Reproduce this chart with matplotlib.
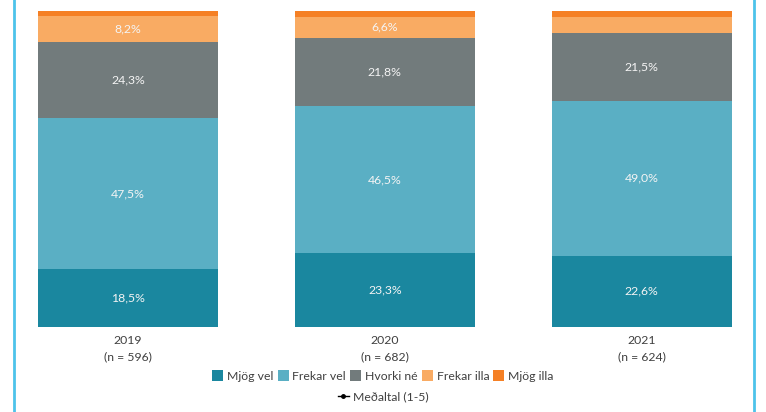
import matplotlib
matplotlib.use("Agg")
from matplotlib import pyplot as plt
from matplotlib.patches import Patch
from matplotlib.lines import Line2D
import numpy as np

plt.rcParams['font.family'] = ['Lato', 'DejaVu Sans']

years = ['2019', '2020', '2021']
n_counts = [596, 682, 624]
categories = ['Mjög vel', 'Frekar vel', 'Hvorki né', 'Frekar illa', 'Mjög illa']
mjog_vel = [18.5, 23.3, 22.6]
frekar_vel = [47.5, 46.5, 49.0]
hvorki = [24.3, 21.8, 21.5]
frekar_illa = [8.2, 6.6, 5.1]
mjog_illa = [1.5, 1.8, 1.8]
series = [mjog_vel, frekar_vel, hvorki, frekar_illa, mjog_illa]
colors = ['#1a879f', '#5aafc4', '#727b7c', '#f9ab63', '#f58025']

fig = plt.figure(figsize=(7.66, 4.12), dpi=100)
ax = fig.add_axes([12.35 / 766, 85 / 412, 745 / 766, 316 / 412])

x = np.arange(len(years))
bottom = np.zeros(len(years))
for vals, col in zip(series, colors):
    vals = np.array(vals)
    ax.bar(x, vals, width=0.7, bottom=bottom, color=col, edgecolor='none')
    for xi, b, v in zip(x, bottom, vals):
        if v >= 6:
            ax.text(xi, b + v / 2, f"{v:.1f}%".replace('.', ','), ha='center', va='center',
                    color='#f4f4f4', fontsize=8.8)
    bottom += vals

ax.set_xlim(-0.45, 2.45)
ax.set_ylim(0, 100)
ax.set_yticks([])
ax.set_xticks(x)
ax.set_xticklabels([f"{y}\n(n = {n})" for y, n in zip(years, n_counts)],
                   fontsize=8.8, color='#404040', linespacing=1.5)
ax.tick_params(axis='x', length=0, pad=6)
for s in ['top', 'bottom', 'left', 'right']:
    ax.spines[s].set_visible(False)

# cyan frame lines on the sides
fig.add_artist(Line2D([13.5 / 766, 13.5 / 766], [0, 1], color='#4dc3ea', lw=2))
fig.add_artist(Line2D([753.5 / 766, 753.5 / 766], [0, 1], color='#4dc3ea', lw=2))

handles = [Patch(facecolor=c, edgecolor='none') for c in colors]
leg1 = fig.legend(handles, categories, loc='center', bbox_to_anchor=(0.5, 1 - 376 / 412),
                  ncol=5, frameon=False, fontsize=8.8, handlelength=0.9, handleheight=0.9,
                  handletextpad=0.3, columnspacing=0.35, labelcolor='#404040')
mean_handle = Line2D([0], [0], color='black', lw=1, marker='o', markersize=2.5)
leg2 = fig.legend([mean_handle], ['Meðaltal (1-5)'], loc='center',
                  bbox_to_anchor=(0.5, 1 - 397 / 412), frameon=False, fontsize=8.8,
                  handlelength=0.9, handletextpad=0.3, labelcolor='#404040')

fig.savefig('out.png', dpi=100)
